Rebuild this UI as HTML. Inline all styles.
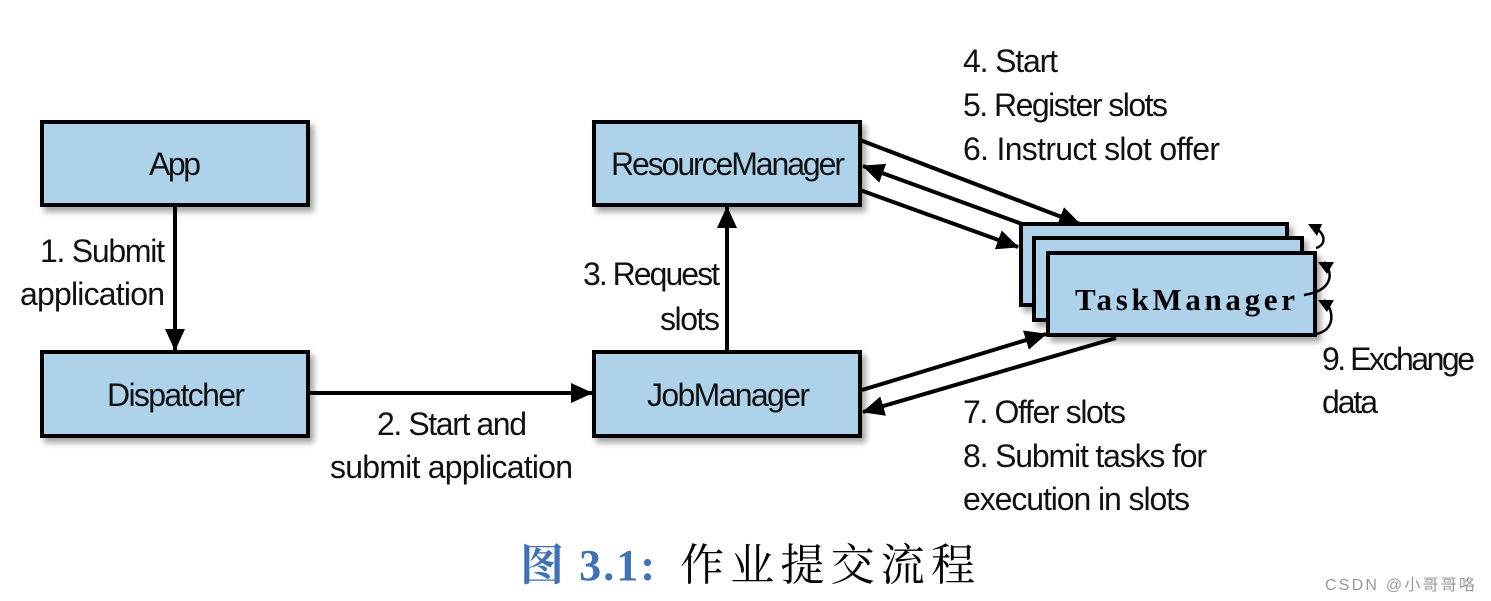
<!DOCTYPE html>
<html><head><meta charset="utf-8"><style>
html,body{margin:0;padding:0;background:#fff;}
svg{display:block;}
.t{font-family:"Liberation Sans Narrow","Liberation Sans",sans-serif;font-size:32px;fill:#111;}
</style></head><body>
<svg width="1491" height="601" viewBox="0 0 1491 601" xmlns="http://www.w3.org/2000/svg">
<defs>
<filter id="sh" x="-10%" y="-10%" width="130%" height="140%"><feDropShadow dx="4" dy="5" stdDeviation="3" flood-color="#000" flood-opacity="0.35"/></filter>
<marker id="ar" markerWidth="10" markerHeight="10" refX="9" refY="5" orient="auto" markerUnits="userSpaceOnUse" viewBox="0 0 10 10"><path d="M0,0 L10,5 L0,10 z" fill="#000"/></marker>
<marker id="ab" markerWidth="22" markerHeight="20" refX="21" refY="10" orient="auto" markerUnits="userSpaceOnUse"><path d="M0,0 L22,10 L0,20 z" fill="#000"/></marker>
</defs>
<g fill="#aed2ea" stroke="#000" stroke-width="4" filter="url(#sh)">
<rect x="42" y="122" width="266" height="83"/>
<rect x="42" y="352" width="266" height="84"/>
<rect x="594" y="122" width="266" height="83"/>
<rect x="594" y="352" width="266" height="84"/>
<rect x="1021" y="224" width="266" height="81"/>
<rect x="1034" y="238" width="268" height="82"/>
<rect x="1048" y="253" width="267" height="82"/>
</g>
<g stroke="#000" stroke-width="4" fill="none">
<line x1="175" y1="205" x2="175" y2="350" marker-end="url(#ab)"/>
<line x1="308" y1="393" x2="592" y2="393" marker-end="url(#ab)"/>
<line x1="727" y1="352" x2="727" y2="207" marker-end="url(#ab)"/>
<line x1="860" y1="140" x2="1080" y2="224" marker-end="url(#ab)"/>
<line x1="1022" y1="224" x2="863" y2="166" marker-end="url(#ab)"/>
<line x1="860" y1="190" x2="1018" y2="247" marker-end="url(#ab)"/>
<line x1="862" y1="390" x2="1046" y2="334" marker-end="url(#ab)"/>
<line x1="1116" y1="338" x2="863" y2="412" marker-end="url(#ab)"/>
<path d="M1316,248 C1328,244 1324,232 1315,228" stroke-width="2.5"/>
<path d="M1304,295 C1336,290 1332,270 1324,262" stroke-width="2.5"/>
<path d="M1316,334 C1336,330 1334,310 1324,300" stroke-width="2.5"/>
</g>
<g fill="#000">
<path d="M1308,224 L1322,224 L1317,236 z"/>
<path d="M1318,262 L1334,262 L1327,274 z"/>
<path d="M1318,300 L1334,300 L1327,312 z"/>
</g>
<g class="t">
<text x="175" y="175" text-anchor="middle" textLength="52">App</text>
<text x="107" y="406" textLength="138">Dispatcher</text>
<text x="611" y="175" textLength="234">ResourceManager</text>
<text x="647" y="406" textLength="163">JobManager</text>
<text x="40" y="262" textLength="125">1. Submit</text>
<text x="20" y="305" textLength="145">application</text>
<text x="377" y="435" textLength="150">2. Start and</text>
<text x="330" y="478" textLength="243">submit application</text>
<text x="583" y="285" textLength="137">3. Request</text>
<text x="660" y="330" textLength="60">slots</text>
<text x="963" y="72" textLength="95">4. Start</text>
<text x="963" y="116" textLength="205">5. Register slots</text>
<text x="963" y="160" textLength="257">6. Instruct slot offer</text>
<text x="963" y="423" textLength="163">7. Offer slots</text>
<text x="963" y="467" textLength="244">8. Submit tasks for</text>
<text x="963" y="510" textLength="227">execution in slots</text>
<text x="1322" y="370" textLength="153">9. Exchange</text>
<text x="1322" y="413" textLength="56">data</text>
</g>
<text x="1075" y="310" font-family="Liberation Serif,serif" font-weight="bold" font-size="31" textLength="220">TaskManager</text>
<text x="520" y="580" font-family="Liberation Serif,'Noto Serif CJK SC',serif" font-weight="bold" font-size="44" fill="#3f72b5" textLength="135">图 3.1:</text>
<text x="680" y="580" font-family="'Noto Serif CJK SC',serif" font-size="44" fill="#000" textLength="295">作业提交流程</text>
<text x="1325" y="590" font-family="Liberation Sans,'Noto Sans CJK SC',sans-serif" font-size="16" fill="#999" textLength="150">CSDN @小哥哥咯</text>
</svg>
</body></html>
